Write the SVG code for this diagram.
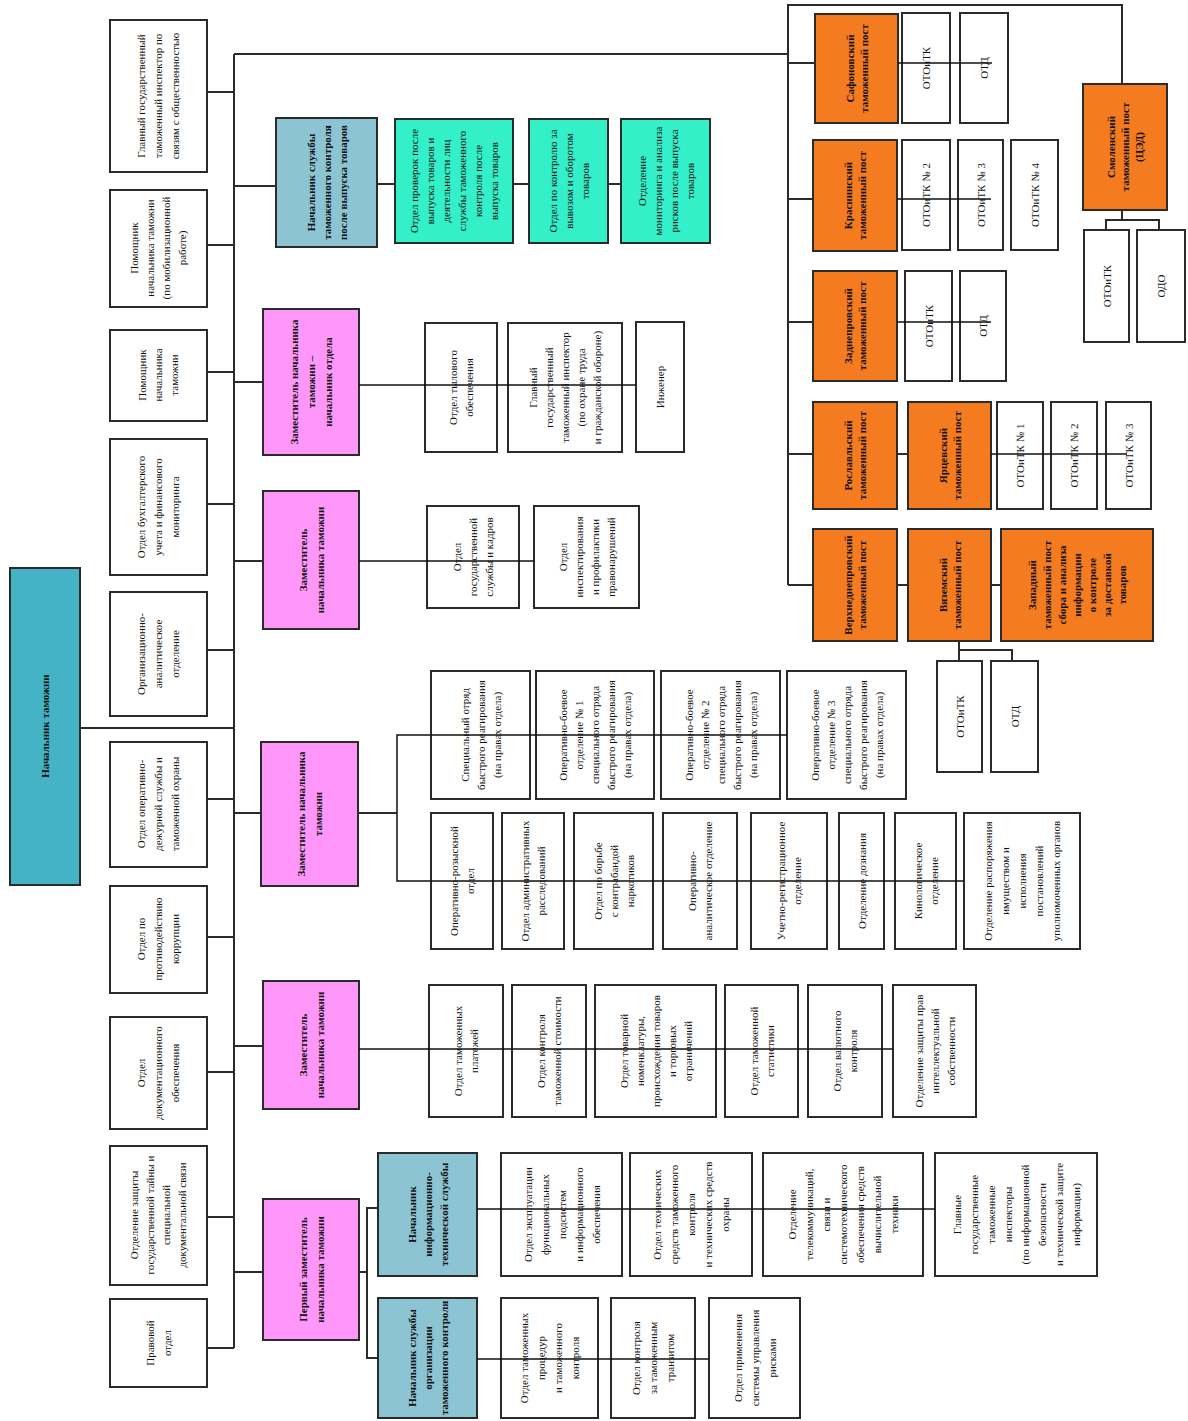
<svg xmlns="http://www.w3.org/2000/svg" width="1188" height="1421" viewBox="0 0 1188 1421">
<style>
rect{stroke:#2b2b2b;stroke-width:2}
rect.bg{stroke:none;fill:#fff}
.w{fill:#fff}.tl{fill:#45b3c6}.lb{fill:#8cc4d4}.aq{fill:#33f0c9}.pk{fill:#ff97fb}.or{fill:#f47b20}
text{font-family:"Liberation Serif","Times New Roman",serif;font-size:11px;fill:#111;text-anchor:middle}
.bd{font-weight:bold}
.c line,.c polyline{stroke:#2b2b2b;stroke-width:2;fill:none}
.c .th{stroke-width:1.5;stroke:#111}
</style>
<rect class="bg" x="0" y="0" width="1188" height="1421"/>

<g id="n-main"><rect class="tl" x="10" y="568" width="70" height="317"/><text class="bd" transform="translate(45,726) rotate(-90)"><tspan x="0" y="4">Начальник таможни</tspan></text></g>

<g id="n-l1"><rect class="w" x="110" y="20" width="97" height="152"/><text transform="translate(158,96) rotate(-90)"><tspan x="0" y="-13">Главный государственный</tspan><tspan x="0" y="4">таможенный инспектор по</tspan><tspan x="0" y="21">связям с общественностью</tspan></text></g>
<g id="n-l2"><rect class="w" x="110" y="190" width="97" height="117"/><text transform="translate(158,248) rotate(-90)"><tspan x="0" y="-20">Помощник</tspan><tspan x="0" y="-4">начальника таможни</tspan><tspan x="0" y="12">(по мобилизационной</tspan><tspan x="0" y="28">работе)</tspan></text></g>
<g id="n-l3"><rect class="w" x="110" y="330" width="97" height="91"/><text transform="translate(158,375) rotate(-90)"><tspan x="0" y="-12">Помощник</tspan><tspan x="0" y="4">начальника</tspan><tspan x="0" y="20">таможни</tspan></text></g>
<g id="n-l4"><rect class="w" x="110" y="439" width="97" height="136"/><text transform="translate(158,507) rotate(-90)"><tspan x="0" y="-13">Отдел бухгалтерского</tspan><tspan x="0" y="4">учета и финансового</tspan><tspan x="0" y="21">мониторинга</tspan></text></g>
<g id="n-l5"><rect class="w" x="110" y="592" width="97" height="124"/><text transform="translate(158,654) rotate(-90)"><tspan x="0" y="-13">Организационно-</tspan><tspan x="0" y="4">аналитическое</tspan><tspan x="0" y="21">отделение</tspan></text></g>
<g id="n-l6"><rect class="w" x="110" y="742" width="97" height="125"/><text transform="translate(158,804) rotate(-90)"><tspan x="0" y="-13">Отдел оперативно-</tspan><tspan x="0" y="4">дежурной службы и</tspan><tspan x="0" y="21">таможенной охраны</tspan></text></g>
<g id="n-l7"><rect class="w" x="110" y="886" width="97" height="107"/><text transform="translate(158,939) rotate(-90)"><tspan x="0" y="-13">Отдел по</tspan><tspan x="0" y="4">противодействию</tspan><tspan x="0" y="21">коррупции</tspan></text></g>
<g id="n-l8"><rect class="w" x="110" y="1017" width="97" height="112"/><text transform="translate(158,1073) rotate(-90)"><tspan x="0" y="-13">Отдел</tspan><tspan x="0" y="4">документационного</tspan><tspan x="0" y="21">обеспечения</tspan></text></g>
<g id="n-l9"><rect class="w" x="110" y="1146" width="97" height="139"/><text transform="translate(158,1215) rotate(-90)"><tspan x="0" y="-20">Отделение защиты</tspan><tspan x="0" y="-4">государственной тайны и</tspan><tspan x="0" y="12">специальной</tspan><tspan x="0" y="28">документальной связи</tspan></text></g>
<g id="n-l10"><rect class="w" x="110" y="1299" width="97" height="88"/><text transform="translate(158,1343) rotate(-90)"><tspan x="0" y="-4.5">Правовой</tspan><tspan x="0" y="12.5">отдел</tspan></text></g>

<g id="n-s1"><rect class="lb" x="276" y="118" width="101" height="129"/><text class="bd" transform="translate(326.5,182.5) rotate(-90)"><tspan x="0" y="-12">Начальник службы</tspan><tspan x="0" y="4">таможенного контроля</tspan><tspan x="0" y="20">после выпуска товаров</tspan></text></g>
<g id="n-a1"><rect class="aq" x="395" y="119" width="118" height="124"/><text transform="translate(454,181) rotate(-90)"><tspan x="0" y="-36">Отдел проверок после</tspan><tspan x="0" y="-20">выпуска товаров и</tspan><tspan x="0" y="-4">деятельности лиц</tspan><tspan x="0" y="12">службы таможенного</tspan><tspan x="0" y="28">контроля после</tspan><tspan x="0" y="44">выпуска товаров</tspan></text></g>
<g id="n-a2"><rect class="aq" x="529" y="119" width="79" height="124"/><text transform="translate(568.5,181) rotate(-90)"><tspan x="0" y="-12">Отдел по контролю за</tspan><tspan x="0" y="4">вывозом и оборотом</tspan><tspan x="0" y="20">товаров</tspan></text></g>
<g id="n-a3"><rect class="aq" x="621" y="119" width="89" height="124"/><text transform="translate(665.5,181) rotate(-90)"><tspan x="0" y="-20">Отделение</tspan><tspan x="0" y="-4">мониторинга и анализа</tspan><tspan x="0" y="12">рисков после выпуска</tspan><tspan x="0" y="28">товаров</tspan></text></g>

<g id="n-p1"><rect class="pk" x="263" y="309" width="96" height="146"/><text class="bd" transform="translate(311,382) rotate(-90)"><tspan x="0" y="-13">Заместитель начальника</tspan><tspan x="0" y="4">таможни –</tspan><tspan x="0" y="21">начальник отдела</tspan></text></g>
<g id="n-p1a"><rect class="w" x="425" y="323" width="72" height="129"/><text transform="translate(461,387.5) rotate(-90)"><tspan x="0" y="-4">Отдел тылового</tspan><tspan x="0" y="12">обеспечения</tspan></text></g>
<g id="n-p1b"><rect class="w" x="508" y="323" width="114" height="129"/><text transform="translate(565,387.5) rotate(-90)"><tspan x="0" y="-28">Главный</tspan><tspan x="0" y="-12">государственный</tspan><tspan x="0" y="4">таможенный инспектор</tspan><tspan x="0" y="20">(по охране труда</tspan><tspan x="0" y="36">и гражданской обороне)</tspan></text></g>
<g id="n-p1c"><rect class="w" x="636" y="322" width="48" height="130"/><text transform="translate(660,387) rotate(-90)"><tspan x="0" y="4">Инженер</tspan></text></g>

<g id="n-p2"><rect class="pk" x="263" y="491" width="96" height="138"/><text class="bd" transform="translate(311,560) rotate(-90)"><tspan x="0" y="-4.5">Заместитель</tspan><tspan x="0" y="12.5">начальника таможни</tspan></text></g>
<g id="n-p2a"><rect class="w" x="427" y="506" width="92" height="102"/><text transform="translate(473,557) rotate(-90)"><tspan x="0" y="-12">Отдел</tspan><tspan x="0" y="4">государственной</tspan><tspan x="0" y="20">службы и кадров</tspan></text></g>
<g id="n-p2b"><rect class="w" x="534" y="506" width="105" height="102"/><text transform="translate(586.5,557) rotate(-90)"><tspan x="0" y="-20">Отдел</tspan><tspan x="0" y="-4">инспектирования</tspan><tspan x="0" y="12">и профилактики</tspan><tspan x="0" y="28">правонарушений</tspan></text></g>

<g id="n-p3"><rect class="pk" x="261" y="742" width="97" height="144"/><text class="bd" transform="translate(309.5,814) rotate(-90)"><tspan x="0" y="-4.5">Заместитель начальника</tspan><tspan x="0" y="12.5">таможни</tspan></text></g>
<g id="n-t1"><rect class="w" x="431" y="671" width="99" height="128"/><text transform="translate(480.5,735) rotate(-90)"><tspan x="0" y="-12">Специальный отряд</tspan><tspan x="0" y="4">быстрого реагирования</tspan><tspan x="0" y="20">(на правах отдела)</tspan></text></g>
<g id="n-t2"><rect class="w" x="536" y="671" width="118" height="128"/><text transform="translate(595,735) rotate(-90)"><tspan x="0" y="-28">Оперативно-боевое</tspan><tspan x="0" y="-12">отделение № 1</tspan><tspan x="0" y="4">специального отряда</tspan><tspan x="0" y="20">быстрого реагирования</tspan><tspan x="0" y="36">(на правах отдела)</tspan></text></g>
<g id="n-t3"><rect class="w" x="661" y="671" width="119" height="128"/><text transform="translate(720.5,735) rotate(-90)"><tspan x="0" y="-28">Оперативно-боевое</tspan><tspan x="0" y="-12">отделение № 2</tspan><tspan x="0" y="4">специального отряда</tspan><tspan x="0" y="20">быстрого реагирования</tspan><tspan x="0" y="36">(на правах отдела)</tspan></text></g>
<g id="n-t4"><rect class="w" x="787" y="671" width="119" height="128"/><text transform="translate(846.5,735) rotate(-90)"><tspan x="0" y="-28">Оперативно-боевое</tspan><tspan x="0" y="-12">отделение № 3</tspan><tspan x="0" y="4">специального отряда</tspan><tspan x="0" y="20">быстрого реагирования</tspan><tspan x="0" y="36">(на правах отдела)</tspan></text></g>
<g id="n-b1"><rect class="w" x="431" y="813" width="62" height="136"/><text transform="translate(462,881) rotate(-90)"><tspan x="0" y="-4">Оперативно-розыскной</tspan><tspan x="0" y="12">отдел</tspan></text></g>
<g id="n-b2"><rect class="w" x="502" y="813" width="62" height="136"/><text transform="translate(533,881) rotate(-90)"><tspan x="0" y="-4">Отдел административных</tspan><tspan x="0" y="12">расследований</tspan></text></g>
<g id="n-b3"><rect class="w" x="574" y="813" width="79" height="136"/><text transform="translate(613.5,881) rotate(-90)"><tspan x="0" y="-12">Отдел по борьбе</tspan><tspan x="0" y="4">с контрабандой</tspan><tspan x="0" y="20">наркотиков</tspan></text></g>
<g id="n-b4"><rect class="w" x="663" y="813" width="74" height="136"/><text transform="translate(700,881) rotate(-90)"><tspan x="0" y="-4">Оперативно-</tspan><tspan x="0" y="12">аналитическое отделение</tspan></text></g>
<g id="n-b5"><rect class="w" x="751" y="813" width="76" height="136"/><text transform="translate(789,881) rotate(-90)"><tspan x="0" y="-4">Учетно-регистрационное</tspan><tspan x="0" y="12">отделение</tspan></text></g>
<g id="n-b6"><rect class="w" x="839" y="813" width="45" height="136"/><text transform="translate(861.5,881) rotate(-90)"><tspan x="0" y="4">Отделение дознания</tspan></text></g>
<g id="n-b7"><rect class="w" x="895" y="813" width="61" height="136"/><text transform="translate(925.5,881) rotate(-90)"><tspan x="0" y="-4">Кинологическое</tspan><tspan x="0" y="12">отделение</tspan></text></g>
<g id="n-b8"><rect class="w" x="964" y="813" width="116" height="136"/><text transform="translate(1022,881) rotate(-90)"><tspan x="0" y="-30">Отделение распоряжения</tspan><tspan x="0" y="-13">имуществом и</tspan><tspan x="0" y="4">исполнения</tspan><tspan x="0" y="21">постановлений</tspan><tspan x="0" y="38">уполномоченных органов</tspan></text></g>

<g id="n-p4"><rect class="pk" x="263" y="981" width="96" height="128"/><text class="bd" transform="translate(311,1045) rotate(-90)"><tspan x="0" y="-4.5">Заместитель</tspan><tspan x="0" y="12.5">начальника таможни</tspan></text></g>
<g id="n-r1"><rect class="w" x="429" y="985" width="74" height="132"/><text transform="translate(466,1051) rotate(-90)"><tspan x="0" y="-4">Отдел таможенных</tspan><tspan x="0" y="12">платежей</tspan></text></g>
<g id="n-r2"><rect class="w" x="512" y="985" width="74" height="132"/><text transform="translate(549,1051) rotate(-90)"><tspan x="0" y="-4">Отдел контроля</tspan><tspan x="0" y="12">таможенной стоимости</tspan></text></g>
<g id="n-r3"><rect class="w" x="595" y="985" width="121" height="132"/><text transform="translate(655.5,1051) rotate(-90)"><tspan x="0" y="-28">Отдел товарной</tspan><tspan x="0" y="-12">номенклатуры,</tspan><tspan x="0" y="4">происхождения товаров</tspan><tspan x="0" y="20">и торговых</tspan><tspan x="0" y="36">ограничений</tspan></text></g>
<g id="n-r4"><rect class="w" x="725" y="985" width="73" height="132"/><text transform="translate(761.5,1051) rotate(-90)"><tspan x="0" y="-4">Отдел таможенной</tspan><tspan x="0" y="12">статистики</tspan></text></g>
<g id="n-r5"><rect class="w" x="808" y="985" width="74" height="132"/><text transform="translate(845,1051) rotate(-90)"><tspan x="0" y="-4">Отдел валютного</tspan><tspan x="0" y="12">контроля</tspan></text></g>
<g id="n-r6"><rect class="w" x="893" y="985" width="83" height="132"/><text transform="translate(934.5,1051) rotate(-90)"><tspan x="0" y="-12">Отделение защиты прав</tspan><tspan x="0" y="4">интеллектуальной</tspan><tspan x="0" y="20">собственности</tspan></text></g>

<g id="n-p5"><rect class="pk" x="263" y="1199" width="96" height="141"/><text class="bd" transform="translate(311,1269.5) rotate(-90)"><tspan x="0" y="-4.5">Первый заместитель</tspan><tspan x="0" y="12.5">начальника таможни</tspan></text></g>
<g id="n-s2"><rect class="lb" x="378" y="1153" width="99" height="123"/><text class="bd" transform="translate(427.5,1214.5) rotate(-90)"><tspan x="0" y="-12">Начальник</tspan><tspan x="0" y="4">информационно-</tspan><tspan x="0" y="20">технической службы</tspan></text></g>
<g id="n-i1"><rect class="w" x="501" y="1153" width="121" height="123"/><text transform="translate(561.5,1214.5) rotate(-90)"><tspan x="0" y="-30">Отдел эксплуатации</tspan><tspan x="0" y="-13">функциональных</tspan><tspan x="0" y="4">подсистем</tspan><tspan x="0" y="21">и информационного</tspan><tspan x="0" y="38">обеспечения</tspan></text></g>
<g id="n-i2"><rect class="w" x="630" y="1153" width="122" height="123"/><text transform="translate(691,1214.5) rotate(-90)"><tspan x="0" y="-30">Отдел технических</tspan><tspan x="0" y="-13">средств таможенного</tspan><tspan x="0" y="4">контроля</tspan><tspan x="0" y="21">и технических средств</tspan><tspan x="0" y="38">охраны</tspan></text></g>
<g id="n-i3"><rect class="w" x="763" y="1153" width="160" height="123"/><text transform="translate(843,1214.5) rotate(-90)"><tspan x="0" y="-47">Отделение</tspan><tspan x="0" y="-30">телекоммуникаций,</tspan><tspan x="0" y="-13">связи и</tspan><tspan x="0" y="4">системотехнического</tspan><tspan x="0" y="21">обеспечения средств</tspan><tspan x="0" y="38">вычислительной</tspan><tspan x="0" y="55">техники</tspan></text></g>
<g id="n-i4"><rect class="w" x="935" y="1153" width="162" height="123"/><text transform="translate(1016,1214.5) rotate(-90)"><tspan x="0" y="-55.5">Главные</tspan><tspan x="0" y="-38.5">государственные</tspan><tspan x="0" y="-21.5">таможенные</tspan><tspan x="0" y="-4.5">инспекторы</tspan><tspan x="0" y="12.5">(по информационной</tspan><tspan x="0" y="29.5">безопасности</tspan><tspan x="0" y="46.5">и технической защите</tspan><tspan x="0" y="63.5">информации)</tspan></text></g>
<g id="n-s3"><rect class="lb" x="378" y="1298" width="99" height="120"/><text class="bd" transform="translate(427.5,1358) rotate(-90)"><tspan x="0" y="-12">Начальник службы</tspan><tspan x="0" y="4">организации</tspan><tspan x="0" y="20">таможенного контроля</tspan></text></g>
<g id="n-o1"><rect class="w" x="501" y="1298" width="97" height="120"/><text transform="translate(549.5,1358) rotate(-90)"><tspan x="0" y="-21.5">Отдел таможенных</tspan><tspan x="0" y="-4.5">процедур</tspan><tspan x="0" y="12.5">и таможенного</tspan><tspan x="0" y="29.5">контроля</tspan></text></g>
<g id="n-o2"><rect class="w" x="611" y="1298" width="84" height="120"/><text transform="translate(653,1358) rotate(-90)"><tspan x="0" y="-13">Отдел контроля</tspan><tspan x="0" y="4">за таможенным</tspan><tspan x="0" y="21">транзитом</tspan></text></g>
<g id="n-o3"><rect class="w" x="709" y="1298" width="91" height="120"/><text transform="translate(754.5,1358) rotate(-90)"><tspan x="0" y="-13">Отдел применения</tspan><tspan x="0" y="4">системы управления</tspan><tspan x="0" y="21">рисками</tspan></text></g>

<g id="n-post1"><rect class="or" x="815" y="14" width="83" height="109"/><text class="bd" transform="translate(856.5,68.5) rotate(-90)"><tspan x="0" y="-3">Сафоновский</tspan><tspan x="0" y="11">таможенный пост</tspan></text></g>
<g id="n-post1a"><rect class="w" x="902" y="13" width="48" height="110"/><text transform="translate(926,68) rotate(-90)"><tspan x="0" y="4">ОТОиТК</tspan></text></g>
<g id="n-post1b"><rect class="w" x="960" y="13" width="48" height="110"/><text transform="translate(984,68) rotate(-90)"><tspan x="0" y="4">ОТД</tspan></text></g>
<g id="n-post2"><rect class="or" x="813" y="140" width="84" height="111"/><text class="bd" transform="translate(855,195.5) rotate(-90)"><tspan x="0" y="-3">Краснинский</tspan><tspan x="0" y="11">таможенный пост</tspan></text></g>
<g id="n-post2a"><rect class="w" x="902" y="140" width="48" height="110"/><text transform="translate(926,195) rotate(-90)"><tspan x="0" y="4">ОТОиТК № 2</tspan></text></g>
<g id="n-post2b"><rect class="w" x="958" y="140" width="45" height="110"/><text transform="translate(980.5,195) rotate(-90)"><tspan x="0" y="4">ОТОиТК № 3</tspan></text></g>
<g id="n-post2c"><rect class="w" x="1011" y="140" width="47" height="110"/><text transform="translate(1034.5,195) rotate(-90)"><tspan x="0" y="4">ОТОиТК № 4</tspan></text></g>
<g id="n-post3"><rect class="or" x="813" y="271" width="84" height="110"/><text class="bd" transform="translate(855,326) rotate(-90)"><tspan x="0" y="-3">Заднепровский</tspan><tspan x="0" y="11">таможенный пост</tspan></text></g>
<g id="n-post3a"><rect class="w" x="905" y="271" width="47" height="110"/><text transform="translate(928.5,326) rotate(-90)"><tspan x="0" y="4">ОТОиТК</tspan></text></g>
<g id="n-post3b"><rect class="w" x="960" y="271" width="46" height="110"/><text transform="translate(983,326) rotate(-90)"><tspan x="0" y="4">ОТД</tspan></text></g>
<g id="n-smol"><rect class="or" x="1083" y="84" width="84" height="126"/><text class="bd" transform="translate(1125,147) rotate(-90)"><tspan x="0" y="-10">Смоленский</tspan><tspan x="0" y="4">таможенный пост</tspan><tspan x="0" y="18">(ЦЭД)</tspan></text></g>
<g id="n-smola"><rect class="w" x="1084" y="230" width="45" height="112"/><text transform="translate(1106.5,286) rotate(-90)"><tspan x="0" y="4">ОТОиТК</tspan></text></g>
<g id="n-smolb"><rect class="w" x="1137" y="230" width="48" height="112"/><text transform="translate(1161,286) rotate(-90)"><tspan x="0" y="4">ОДО</tspan></text></g>
<g id="n-post4"><rect class="or" x="813" y="402" width="84" height="107"/><text class="bd" transform="translate(855,455.5) rotate(-90)"><tspan x="0" y="-3">Рославльский</tspan><tspan x="0" y="11">таможенный пост</tspan></text></g>
<g id="n-post4y"><rect class="or" x="908" y="402" width="83" height="107"/><text class="bd" transform="translate(949.5,455.5) rotate(-90)"><tspan x="0" y="-3">Ярцевский</tspan><tspan x="0" y="11">таможенный пост</tspan></text></g>
<g id="n-post4a"><rect class="w" x="997" y="402" width="46" height="107"/><text transform="translate(1020,455.5) rotate(-90)"><tspan x="0" y="4">ОТОиТК № 1</tspan></text></g>
<g id="n-post4b"><rect class="w" x="1051" y="402" width="46" height="107"/><text transform="translate(1074,455.5) rotate(-90)"><tspan x="0" y="4">ОТОиТК № 2</tspan></text></g>
<g id="n-post4c"><rect class="w" x="1106" y="402" width="45" height="107"/><text transform="translate(1128.5,455.5) rotate(-90)"><tspan x="0" y="4">ОТОиТК № 3</tspan></text></g>
<g id="n-post5"><rect class="or" x="813" y="529" width="84" height="112"/><text class="bd" transform="translate(855,585) rotate(-90)"><tspan x="0" y="-3">Верхнеднепровский</tspan><tspan x="0" y="11">таможенный пост</tspan></text></g>
<g id="n-post5v"><rect class="or" x="908" y="529" width="83" height="112"/><text class="bd" transform="translate(949.5,585) rotate(-90)"><tspan x="0" y="-3">Вяземский</tspan><tspan x="0" y="11">таможенный пост</tspan></text></g>
<g id="n-post5z"><rect class="or" x="1001" y="529" width="152" height="112"/><text class="bd" transform="translate(1077,585) rotate(-90)"><tspan x="0" y="-41">Западный</tspan><tspan x="0" y="-26">таможенный пост</tspan><tspan x="0" y="-11">сбора и анализа</tspan><tspan x="0" y="4">информации</tspan><tspan x="0" y="19">о контроле</tspan><tspan x="0" y="34">за доставкой</tspan><tspan x="0" y="49">товаров</tspan></text></g>
<g id="n-post5a"><rect class="w" x="937" y="661" width="45" height="111"/><text transform="translate(959.5,716.5) rotate(-90)"><tspan x="0" y="4">ОТОиТК</tspan></text></g>
<g id="n-post5b"><rect class="w" x="991" y="661" width="47" height="111"/><text transform="translate(1014.5,716.5) rotate(-90)"><tspan x="0" y="4">ОТД</tspan></text></g>

<g id="connectors" class="c">
<line x1="234" y1="54" x2="234" y2="1348"/>
<line x1="80" y1="728" x2="234" y2="728"/>
<line x1="207" y1="92" x2="234" y2="92"/>
<line x1="207" y1="245" x2="234" y2="245"/>
<line x1="207" y1="372" x2="234" y2="372"/>
<line x1="207" y1="504" x2="234" y2="504"/>
<line x1="207" y1="650" x2="234" y2="650"/>
<line x1="207" y1="799" x2="234" y2="799"/>
<line x1="207" y1="937" x2="234" y2="937"/>
<line x1="207" y1="1072" x2="234" y2="1072"/>
<line x1="207" y1="1217" x2="234" y2="1217"/>
<line x1="207" y1="1348" x2="234" y2="1348"/>
<line x1="234" y1="186" x2="276" y2="186"/>
<line x1="234" y1="382" x2="263" y2="382"/>
<line x1="234" y1="561" x2="263" y2="561"/>
<line x1="234" y1="813" x2="261" y2="813"/>
<line x1="234" y1="1046" x2="263" y2="1046"/>
<line x1="234" y1="1272" x2="263" y2="1272"/>
<line x1="377" y1="184" x2="395" y2="184"/>
<line x1="513" y1="184" x2="529" y2="184"/>
<line x1="608" y1="184" x2="621" y2="184"/>
<line class="th" x1="359" y1="385" x2="636" y2="385"/>
<line class="th" x1="359" y1="561" x2="534" y2="561"/>
<line x1="358" y1="813" x2="397" y2="813"/>
<polyline class="th" points="787,735 397,735 397,881 964,881"/>
<line class="th" x1="359" y1="1049" x2="893" y2="1049"/>
<polyline points="359,1272 367,1272"/>
<polyline points="378,1208 367,1208 367,1358 378,1358"/>
<line class="th" x1="477" y1="1209" x2="935" y2="1209"/>
<line class="th" x1="477" y1="1359" x2="709" y2="1359"/>
<polyline points="234,54 788,54"/>
<polyline points="788,585 788,5 1122,5 1122,84"/>
<line x1="788" y1="63" x2="815" y2="63"/>
<line class="th" x1="898" y1="63" x2="992" y2="63"/>
<line x1="788" y1="199" x2="813" y2="199"/>
<line class="th" x1="897" y1="199" x2="991" y2="199"/>
<line x1="788" y1="322" x2="813" y2="322"/>
<line class="th" x1="897" y1="322" x2="991" y2="322"/>
<line x1="788" y1="454" x2="813" y2="454"/>
<line x1="897" y1="454" x2="908" y2="454"/>
<line class="th" x1="991" y1="454" x2="1127" y2="454"/>
<line x1="788" y1="585" x2="813" y2="585"/>
<line x1="897" y1="585" x2="908" y2="585"/>
<line x1="991" y1="585" x2="1001" y2="585"/>
<polyline points="1122,210 1122,220"/>
<polyline points="1106,230 1106,220 1159,220 1159,230"/>
<polyline points="959,641 959,661"/>
<polyline points="959,650 1012,650 1012,661"/>
</g>
</svg>
